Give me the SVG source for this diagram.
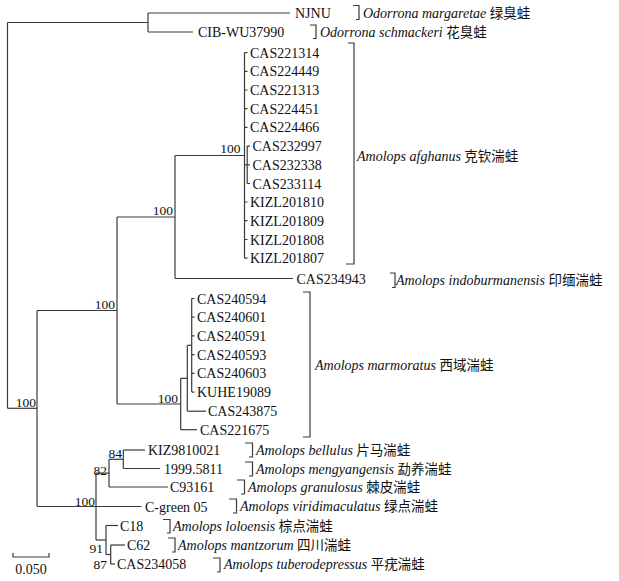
<svg xmlns="http://www.w3.org/2000/svg" width="619" height="581" viewBox="0 0 619 581">
<style>
.br{fill:none;stroke:#3a3a3a;stroke-width:1.2}
.bk{fill:none;stroke:#3a3a3a;stroke-width:1.2}
.t{font-family:"Liberation Serif","Times New Roman",serif;font-size:14px;fill:#111}
.bs{font-family:"Liberation Serif","Times New Roman",serif;font-size:13.5px;fill:#111;text-anchor:end}
.sp{font-family:"Liberation Serif","Times New Roman",serif;font-size:14px;fill:#111;font-style:italic}
.cn{font-family:"Noto Sans CJK SC","Noto Sans CJK TC",sans-serif;font-style:normal;font-size:13.5px}
</style>
<rect width="619" height="581" fill="#fff"/>
<g id="connectors" class="br">
<!-- root -->
<path d="M7.5,22.5 V408.3"/>
<path d="M7.5,22.5 H148"/>
<path d="M7.5,408.3 H37"/>
<!-- Odorrona -->
<path d="M148,13 V32"/>
<path d="M148,13 H290"/>
<path d="M148,32 H193"/>
<!-- node 37 -->
<path d="M37,310.5 V506.5"/>
<path d="M37,310.5 H117"/>
<path d="M37,506.5 H141.5"/>
<!-- node 117 -->
<path d="M117,217 V404"/>
<path d="M117,217 H175"/>
<path d="M117,404 H180.7"/>
<!-- node 175 -->
<path d="M175,155.5 V278.5"/>
<path d="M175,155.5 H244.5"/>
<path d="M175,278.5 H293"/>
<!-- afghanus -->
<path d="M244.5,52.7 V258.2"/>
<path d="M244.5,52.7 H247.5 M244.5,71.4 H247.5 M244.5,90 H247.5 M244.5,108.7 H247.5 M244.5,127.4 H247.5 M244.5,202 H247.5 M244.5,220.7 H247.5 M244.5,239.5 H247.5 M244.5,258.2 H247.5"/>
<path d="M244.5,164.8 H247.2"/>
<path d="M247.2,146.1 V183.5"/>
<path d="M247.2,146.1 H250 M247.2,164.8 H250 M247.2,183.5 H250"/>
<!-- marmoratus -->
<path d="M180.7,378.3 V429.7"/>
<path d="M180.7,378.3 H187.3"/>
<path d="M180.7,429.7 H197"/>
<path d="M187.3,345.3 V411.2"/>
<path d="M187.3,345.3 H191.7"/>
<path d="M187.3,411.2 H206"/>
<path d="M191.7,298.5 V392.1"/>
<path d="M191.7,298.5 H194.5 M191.7,317.2 H194.5 M191.7,335.9 H194.5 M191.7,354.7 H194.5 M191.7,373.4 H194.5 M191.7,392.1 H194.5"/>
<!-- lower clade -->
<path d="M96,473.1 V540"/>
<path d="M96,473.1 H109"/>
<path d="M96,540 H106"/>
<path d="M109,459.3 V487"/>
<path d="M109,459.3 H123.3"/>
<path d="M109,487 H168"/>
<path d="M123.3,450 V468.5"/>
<path d="M123.3,450 H145"/>
<path d="M123.3,468.5 H160"/>
<path d="M106,525.5 V554.5"/>
<path d="M106,525.5 H118"/>
<path d="M106,554.5 H110.7"/>
<path d="M110.7,545 V564"/>
<path d="M110.7,545 H125"/>
<path d="M110.7,564 H115"/>
</g>
<g id="tips" class="t">
<g id="t-NJNU"><text x="295" y="18">NJNU</text></g>
<g id="t-CIB"><text x="198" y="37">CIB-WU37990</text></g>
<g id="t-CAS221314"><text x="250" y="57.7">CAS221314</text></g>
<g id="t-CAS224449"><text x="250" y="76.4">CAS224449</text></g>
<g id="t-CAS221313"><text x="250" y="95">CAS221313</text></g>
<g id="t-CAS224451"><text x="250" y="113.7">CAS224451</text></g>
<g id="t-CAS224466"><text x="250" y="132.4">CAS224466</text></g>
<g id="t-CAS232997"><text x="252.5" y="151.1">CAS232997</text></g>
<g id="t-CAS232338"><text x="252.5" y="169.8">CAS232338</text></g>
<g id="t-CAS233114"><text x="252.5" y="188.5">CAS233114</text></g>
<g id="t-KIZL201810"><text x="250" y="207">KIZL201810</text></g>
<g id="t-KIZL201809"><text x="250" y="225.7">KIZL201809</text></g>
<g id="t-KIZL201808"><text x="250" y="244.5">KIZL201808</text></g>
<g id="t-KIZL201807"><text x="250" y="263.2">KIZL201807</text></g>
<g id="t-CAS234943"><text x="296.5" y="283.5">CAS234943</text></g>
<g id="t-CAS240594"><text x="197" y="303.5">CAS240594</text></g>
<g id="t-CAS240601"><text x="197" y="322.2">CAS240601</text></g>
<g id="t-CAS240591"><text x="197" y="340.9">CAS240591</text></g>
<g id="t-CAS240593"><text x="197" y="359.7">CAS240593</text></g>
<g id="t-CAS240603"><text x="197" y="378.4">CAS240603</text></g>
<g id="t-KUHE19089"><text x="197" y="397.1">KUHE19089</text></g>
<g id="t-CAS243875"><text x="208" y="416.2">CAS243875</text></g>
<g id="t-CAS221675"><text x="200" y="434.7">CAS221675</text></g>
<g id="t-KIZ9810021"><text x="148" y="455">KIZ9810021</text></g>
<g id="t-1999"><text x="164" y="473.5">1999.5811</text></g>
<g id="t-C93161"><text x="170" y="492">C93161</text></g>
<g id="t-Cgreen05"><text x="145" y="511.5">C-green 05</text></g>
<g id="t-C18"><text x="120" y="530.5">C18</text></g>
<g id="t-C62"><text x="127" y="550">C62</text></g>
<g id="t-CAS234058"><text x="117" y="569">CAS234058</text></g>
</g>
<g id="bootstrap" class="bs">
<text x="36" y="407">100</text>
<text x="115" y="308.5">100</text>
<text x="173" y="215">100</text>
<text x="240.5" y="153">100</text>
<text x="178" y="402.5">100</text>
<text x="122" y="458">84</text>
<text x="107" y="474.5">82</text>
<text x="95" y="506">100</text>
<text x="103" y="553">91</text>
<text x="107" y="569">87</text>
</g>
<g id="species">
<g id="s-margaretae"><path class="bk" d="M353,5.5 H359 V19.5 H356"/><text class="sp" x="363" y="18">Odorrona margaretae <tspan class="cn">绿臭蛙</tspan></text></g>
<g id="s-schmackeri"><path class="bk" d="M310,25 H316 V38.5 H313"/><text class="sp" x="320" y="37">Odorrona schmackeri <tspan class="cn">花臭蛙</tspan></text></g>
<g id="s-afghanus"><path class="bk" d="M348,43 H354 V264 H346"/><text class="sp" x="357" y="161">Amolops afghanus <tspan class="cn">克钦湍蛙</tspan></text></g>
<g id="s-indoburmanensis"><path class="bk" d="M390,273 H395 V287.5 H392"/><text class="sp" x="396" y="285">Amolops indoburmanensis <tspan class="cn">印缅湍蛙</tspan></text></g>
<g id="s-marmoratus"><path class="bk" d="M303,292 H310 V437 H303"/><text class="sp" x="315" y="370">Amolops marmoratus <tspan class="cn">西域湍蛙</tspan></text></g>
<g id="s-bellulus"><path class="bk" d="M245,443 H252.5 V457 H249"/><text class="sp" x="256" y="455">Amolops bellulus <tspan class="cn">片马湍蛙</tspan></text></g>
<g id="s-mengyangensis"><path class="bk" d="M245,462 H252.5 V476 H249"/><text class="sp" x="256" y="474">Amolops mengyangensis <tspan class="cn">勐养湍蛙</tspan></text></g>
<g id="s-granulosus"><path class="bk" d="M237,480 H244.5 V494 H241"/><text class="sp" x="248" y="492">Amolops granulosus <tspan class="cn">棘皮湍蛙</tspan></text></g>
<g id="s-viridimaculatus"><path class="bk" d="M229,499 H236.5 V513 H233"/><text class="sp" x="240" y="511">Amolops viridimaculatus <tspan class="cn">绿点湍蛙</tspan></text></g>
<g id="s-loloensis"><path class="bk" d="M163,519.5 H170 V533 H167"/><text class="sp" x="173" y="531">Amolops loloensis <tspan class="cn">棕点湍蛙</tspan></text></g>
<g id="s-mantzorum"><path class="bk" d="M168,538 H175 V552 H172"/><text class="sp" x="178" y="550">Amolops mantzorum <tspan class="cn">四川湍蛙</tspan></text></g>
<g id="s-tuberodepressus"><path class="bk" d="M213,558 H220 V572 H217"/><text class="sp" x="224" y="569">Amolops tuberodepressus <tspan class="cn">平疣湍蛙</tspan></text></g>
</g>
<g id="scalebar">
<path class="br" d="M13,553 V557 H49 V553"/>
<text class="t" x="31" y="574" text-anchor="middle">0.050</text>
</g>
</svg>
